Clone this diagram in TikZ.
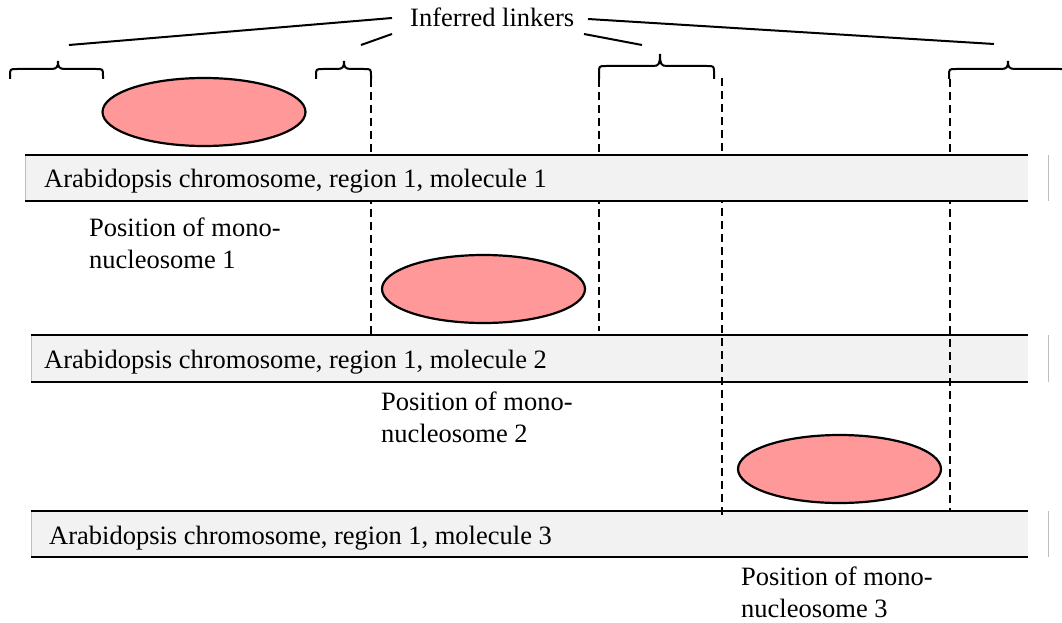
\documentclass[tikz,border=0pt]{standalone}
\usepackage{fontspec}
\setmainfont{Liberation Serif}
\usetikzlibrary{shapes.geometric}
\definecolor{nucfill}{RGB}{255,153,153}
\definecolor{barbg}{RGB}{242,242,242}
\definecolor{edgegray}{RGB}{190,190,190}
\newcommand{\linkbrace}[6]{% x1, xtip, x2, yflat, ytip, yend
  \draw[brc] (#1,#6) -- (#1,#4+7) .. controls (#1,#4) .. (#1+7,#4) -- (#2-7,#4)
    .. controls (#2-1,#4) and (#2,#4-2) .. (#2,#5)
    .. controls (#2,#4-2) and (#2+1,#4) .. (#2+7,#4) -- (#3-7,#4)
    .. controls (#3,#4) .. (#3,#4+7) -- (#3,#6);}
\begin{document}
\begin{tikzpicture}[x=1pt,y=-1pt,
  font=\fontsize{26.5}{31.5}\selectfont,
  nuc/.style={ellipse, draw, line width=2.2pt, fill=nucfill, minimum width=203pt, minimum height=68pt, inner sep=0pt},
  barback/.style={fill=barbg, draw=none},
  barline/.style={line width=2.2pt},
  edgeline/.style={draw=edgegray, line width=1pt},
  lead/.style={line width=2pt},
  brc/.style={line width=2pt},
  dsh/.style={line width=2pt, dash pattern=on 8pt off 5pt},
  lbl/.style={anchor=base west, inner sep=0pt, align=left}]
\useasboundingbox (0,0) rectangle (1062,623);

% label and leader lines
\node[lbl] (inf) at (410,27) {Inferred linkers};
\coordinate (l1a) at (392,18); \coordinate (l1b) at (69,45);
\coordinate (l2a) at (392,34); \coordinate (l2b) at (361,45);
\coordinate (l3a) at (584,34); \coordinate (l3b) at (642,45);
\coordinate (l4a) at (588,19); \coordinate (l4b) at (994,44);
\draw[lead] (l1a) -- (l1b);
\draw[lead] (l2a) -- (l2b);
\draw[lead] (l3a) -- (l3b);
\draw[lead] (l4a) -- (l4b);

% braces
\linkbrace{10}{58}{103}{69}{61}{79}
\linkbrace{316}{344}{371}{69}{61}{79}
\linkbrace{599}{660}{714}{66}{54}{79}
\linkbrace{949}{1008}{1067}{69}{61}{79}

% nucleosomes
\node[nuc] (e1) at (204,112) {};
\node[nuc] (e2) at (483.5,289) {};
\node[nuc] (e3) at (839.5,469) {};

% bar 2 and bar 3 (under dashed lines)
\fill[barback] (31,335) rectangle (1028,382);
\draw[edgeline] (31,335) -- (31,382);
\draw[barline] (31,335) -- (1028,335) (31,382) -- (1028,382);
\draw[edgeline] (1048,335) -- (1048,382);
\node[lbl] (m2) at (44,368) {Arabidopsis chromosome, region 1, molecule 2};

\fill[barback] (31,511) rectangle (1028,557);
\draw[edgeline] (31,511) -- (31,557);
\draw[barline] (31,511) -- (1028,511) (31,557) -- (1028,557);
\draw[edgeline] (1048,511) -- (1048,557);
\node[lbl] (m3) at (49,544) {Arabidopsis chromosome, region 1, molecule 3};

% dashed boundary lines
\coordinate (d1a) at (371,79); \coordinate (d1b) at (371,335);
\coordinate (d2a) at (599,79); \coordinate (d2b) at (599,331);
\coordinate (d3a) at (722,78); \coordinate (d3b) at (722,517);
\coordinate (d4a) at (950,79); \coordinate (d4b) at (950,510);
\draw[dsh] (d1a) -- (d1b);
\draw[dsh] (d2a) -- (d2b);
\draw[dsh] (d3a) -- (d3b);
\draw[dsh] (d4a) -- (d4b);

% bar 1 (over dashed lines)
\fill[barback] (25,155) rectangle (1028,201);
\draw[edgeline] (25,155) -- (25,201);
\draw[barline] (25,155) -- (1028,155) (25,201) -- (1028,201);
\draw[edgeline] (1048,155) -- (1048,201);
\node[lbl] (m1) at (44,187) {Arabidopsis chromosome, region 1, molecule 1};

% position labels (base = baseline of last line)
\node[lbl] (p1) at (89,268) {Position of mono-\\nucleosome 1};
\node[lbl] (p2) at (381,442) {Position of mono-\\nucleosome 2};
\node[lbl] (p3) at (741,617) {Position of mono-\\nucleosome 3};
\end{tikzpicture}
\end{document}
